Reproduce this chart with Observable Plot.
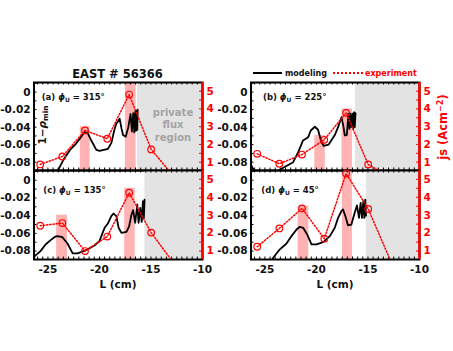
<!DOCTYPE html>
<html><head><meta charset="utf-8">
<script src="https://cdn.jsdelivr.net/npm/d3@7"></script>
<script src="https://cdn.jsdelivr.net/npm/@observablehq/plot@0.6"></script>
<style>
body{margin:0;background:#fff;}
#chart{position:relative;width:453px;height:351px;overflow:hidden;font-family:"DejaVu Sans",sans-serif;font-weight:bold;color:#111;}
#chart svg{position:absolute;left:0;top:0;}
.t{position:absolute;white-space:nowrap;line-height:1;}
.t sub{font-size:70%;vertical-align:-0.3em;line-height:0;}
.t sup{font-size:70%;vertical-align:0.55em;line-height:0;}
</style></head><body><div id="chart"></div>
<script>
// ---- axes / ticks ----
const xDomain = [-26.35, -10];
const leftDomain = [-0.0895, 0.011];
const rightDomain = [0.53, 5.49];
const xTicks = [-25, -20, -15, -10];
const leftTicks = [0, -0.02, -0.04, -0.06, -0.08];
const rightTicks = [1, 2, 3, 4, 5];

// ---- experiment (probe positions, js in A/cm^2) ----
const L_probe = [-25.75, -23.6, -21.4, -19.24, -17.12, -14.98, -12.8];
const js_a = [0.87, 1.32, 2.79, 2.32, 4.81, 1.72, 0.2];
const js_b = [1.47, 0.91, 1.43, 2.26, 3.78, 0.87, 0.15];
const js_c = [2.41, 2.56, 1.0, 1.81, 4.25, 2.03, 0.33];
const js_d = [1.24, 2.26, 3.38, 1.69, 5.32, 3.35, 0.45];

// ---- modeling (L, 1-rho_min) ----
const model_a = [[-24.3,-0.097],[-24.08,-0.0905],[-23.43,-0.076],[-22.77,-0.0647],[-22.28,-0.059],[-21.8,-0.0514],[-21.47,-0.0457],[-21.13,-0.047],[-20.8,-0.055],[-20.3,-0.066],[-19.99,-0.0672],[-19.17,-0.0647],[-18.84,-0.058],[-18.55,-0.043],[-18.36,-0.036],[-18.04,-0.0304],[-17.85,-0.042],[-17.71,-0.049],[-17.45,-0.051],[-17.2,-0.04],[-16.98,-0.025],[-16.85,-0.045],[-16.72,-0.024],[-16.62,-0.046],[-16.52,-0.022],[-16.45,-0.044],[-16.38,-0.021],[-16.33,-0.043],[-16.29,-0.02]];
const model_b = [[-26.35,-0.083],[-25.9,-0.093],[-24.5,-0.1],[-24.0,-0.093],[-23.71,-0.0895],[-22.26,-0.08],[-21.77,-0.0686],[-21.3,-0.0552],[-20.8,-0.0514],[-20.55,-0.0438],[-20.16,-0.0395],[-19.84,-0.043],[-19.55,-0.056],[-19.3,-0.0615],[-18.83,-0.06],[-18.22,-0.049],[-17.9,-0.04],[-17.57,-0.0286],[-17.4,-0.038],[-17.25,-0.0495],[-17.05,-0.049],[-16.9,-0.0247],[-16.8,-0.042],[-16.7,-0.0247],[-16.6,-0.04],[-16.5,-0.0247],[-16.42,-0.042],[-16.35,-0.023],[-16.28,-0.04],[-16.21,-0.024]];
const model_c = [[-26.4,-0.087],[-26.2,-0.0849],[-25.72,-0.08],[-25.23,-0.0725],[-24.74,-0.0676],[-24.3,-0.0638],[-24.08,-0.0631],[-23.6,-0.0643],[-23.1,-0.0714],[-22.6,-0.0826],[-22.12,-0.0826],[-21.3,-0.079],[-20.49,-0.0737],[-20.0,-0.0688],[-19.5,-0.0537],[-19.18,-0.0489],[-18.85,-0.0406],[-18.63,-0.0376],[-18.36,-0.0406],[-18.14,-0.0537],[-17.87,-0.0594],[-17.38,-0.0582],[-17.12,-0.052],[-16.89,-0.0387],[-16.73,-0.0338],[-16.53,-0.048],[-16.33,-0.0274],[-16.2,-0.048],[-16.04,-0.0312],[-15.9,-0.047],[-15.78,-0.0237],[-15.69,-0.0425],[-15.62,-0.0218]];
const model_d = [[-24.4,-0.093],[-24.2,-0.0876],[-23.55,-0.078],[-22.9,-0.0714],[-22.42,-0.0631],[-21.93,-0.0556],[-21.61,-0.0526],[-21.29,-0.0537],[-20.9,-0.0612],[-20.48,-0.0725],[-19.99,-0.0725],[-19.35,-0.0699],[-18.7,-0.0631],[-18.22,-0.0537],[-17.9,-0.0425],[-17.58,-0.035],[-17.42,-0.033],[-17.19,-0.0406],[-16.93,-0.051],[-16.61,-0.05],[-16.29,-0.0368],[-16.07,-0.0285],[-15.87,-0.0425],[-15.71,-0.0256],[-15.58,-0.0425],[-15.45,-0.0237],[-15.35,-0.0425],[-15.26,-0.0218],[-15.19,-0.04]];

// ---- highlighted bands [x1, x2, js top] and private-flux start ----
const bars_a = [[-21.86,-20.9,3.0],[-17.48,-16.44,5.5]];
const bars_b = [[-20.16,-19.14,2.5],[-17.52,-16.51,4.0]];
const bars_c = [[-24.15,-23.1,3.0],[-17.55,-16.53,4.5]];
const bars_d = [[-21.78,-20.74,3.5],[-17.48,-16.51,5.5]];
const priv_a = -16.3, priv_b = -16.2, priv_c = -15.59, priv_d = -15.16;

const W = 453, H = 351;
const chart = document.getElementById("chart");
const xMinor = d3.range(-26, -9.99, 0.5);
const leftMinor = d3.range(-0.08, 0.0101, 0.01);
const rightMinor = d3.range(1, 5.01, 0.5);
const fmtLeft = d => d === 0 ? "0" : d.toFixed(2);

const panels = [
  {left:33.5, right:202, top:82, bottom:170, model:model_a, js:js_a, bars:bars_a, priv:priv_a, xl:false},
  {left:250.5, right:419, top:82, bottom:170, model:model_b, js:js_b, bars:bars_b, priv:priv_b, xl:false},
  {left:33.5, right:202, top:170, bottom:259, model:model_c, js:js_c, bars:bars_c, priv:priv_c, xl:true},
  {left:250.5, right:419, top:170, bottom:259, model:model_d, js:js_d, bars:bars_d, priv:priv_d, xl:true}
];

function add(svg){ chart.append(svg); }

for (const p of panels) {
  const pw = p.right - p.left, ph = p.bottom - p.top;
  const base = {
    width: W, height: H,
    marginLeft: p.left, marginRight: W - p.right, marginTop: p.top, marginBottom: H - p.bottom,
    style: {background: "transparent", overflow: "visible", fontFamily: "DejaVu Sans", fontSize: "10.5px", fontWeight: "bold", color: "#111"}
  };
  const exp = L_probe.map((L, i) => ({L, js: p.js[i]}));
  const bars = p.bars.map(([x1, x2, top]) => ({x1, x2, top}));
  const model = p.model.map(([L, v]) => ({L, v}));

  // background: private flux region + highlighted bands (right scale)
  add(Plot.plot({...base,
    x: {domain: xDomain, axis: null},
    y: {domain: rightDomain, axis: null},
    marks: [
      Plot.rect([p.priv], {x1: d => d, x2: () => xDomain[1], fill: "#e3e3e3"}),
      Plot.rect(bars, {x1: "x1", x2: "x2", y1: () => rightDomain[0], y2: "top", fill: "#ffb3b3", clip: true})
    ]}));

  // modeling curve + left axis (left scale)
  add(Plot.plot({...base,
    x: {domain: xDomain, axis: null},
    y: {domain: leftDomain, axis: null},
    marks: [
      Plot.line(model, {x: "L", y: "v", stroke: "#000", strokeWidth: 1.8, clip: true}),
      Plot.tickX(xMinor, {x: d => d, insetTop: ph - 2.5, stroke: "#000"}),
      Plot.tickX(xMinor, {x: d => d, insetBottom: ph - 2.5, stroke: "#000"}),
      Plot.tickY(leftMinor, {y: d => d, insetRight: pw - 3, stroke: "#000"}),
      Plot.frame({stroke: "#000", strokeWidth: 2}),
      Plot.axisY(leftTicks, {anchor: "left", tickSize: 0, tickPadding: 3.5, tickFormat: fmtLeft, label: null}),
      ...(p.xl ? [Plot.axisX(xTicks, {anchor: "bottom", tickSize: 0, tickPadding: 6, tickFormat: d => String(d), label: null})] : [])
    ]}));

  // experiment + right axis (right scale)
  add(Plot.plot({...base,
    x: {domain: xDomain, axis: null},
    y: {domain: rightDomain, axis: null},
    marks: [
      Plot.line(exp, {x: "L", y: "js", stroke: "#ff0000", strokeWidth: 1.5, strokeDasharray: "1.3,1.9", clip: true}),
      Plot.dot(exp, {x: "L", y: "js", r: 3.3, stroke: "#ff0000", strokeWidth: 1.2, filter: d => d.js >= rightDomain[0]}),
      Plot.tickY(rightMinor, {y: d => d, insetLeft: pw - 3, stroke: "#ff0000"}),
      Plot.ruleX([xDomain[1]], {stroke: "#ff0000", strokeWidth: 2.5}),
      Plot.axisY(rightTicks, {anchor: "right", tickSize: 0, tickPadding: 4, color: "#ff0000", label: null})
    ]}));
}

// ---- text overlays ----
function text(html, x, y, css) {
  const d = document.createElement("div");
  d.className = "t";
  d.innerHTML = html;
  d.style.left = x + "px";
  d.style.top = y + "px";
  Object.assign(d.style, css || {});
  chart.append(d);
  return d;
}
const ctr = {transform: "translate(-50%,-50%)"};
text("EAST # 56366", 117.5, 74.7, {...ctr, fontSize: "11.5px"});
// legend
text("", 253, 72.3, {width: "29px", height: "0", borderTop: "2px solid #000"});
text("modeling", 285, 73.5, {fontSize: "8px", transform: "translateY(-50%)"});
text("", 333, 72.3, {width: "30px", height: "0", borderTop: "2px dotted #ff0000"});
text("experiment", 365, 73.5, {fontSize: "8px", color: "#ff0000", transform: "translateY(-50%)"});
// panel labels
const plab = (k, ang) => `(${k}) <i>ϕ</i><sub>U</sub> = ${ang}°`;
text(plab("a", 315), 41.7, 97.3, {fontSize: "8.5px", transform: "translateY(-50%)"});
text(plab("b", 225), 263, 96.7, {fontSize: "8.5px", transform: "translateY(-50%)"});
text(plab("c", 135), 43.3, 190, {fontSize: "8.5px", transform: "translateY(-50%)"});
text(plab("d", 45), 261.3, 190, {fontSize: "8.5px", transform: "translateY(-50%)"});
// private flux region
text("private<br>flux<br>region", 173, 125.7, {...ctr, fontSize: "10px", color: "#a3a3a3", textAlign: "center", lineHeight: "12.5px"});
// axis titles
text("1−<i>ρ</i><sub>min</sub>", 42, 125, {fontSize: "10.5px", transform: "translate(-50%,-50%) rotate(-90deg)"});
text("js (Acm<sup>−2</sup>)", 444, 127, {fontSize: "11.5px", color: "#ff0000", transform: "translate(-50%,-50%) rotate(-90deg)"});
text("L (cm)", 118, 284.3, {...ctr, fontSize: "10.5px"});
text("L (cm)", 335, 284.3, {...ctr, fontSize: "10.5px"});
</script></body></html>
